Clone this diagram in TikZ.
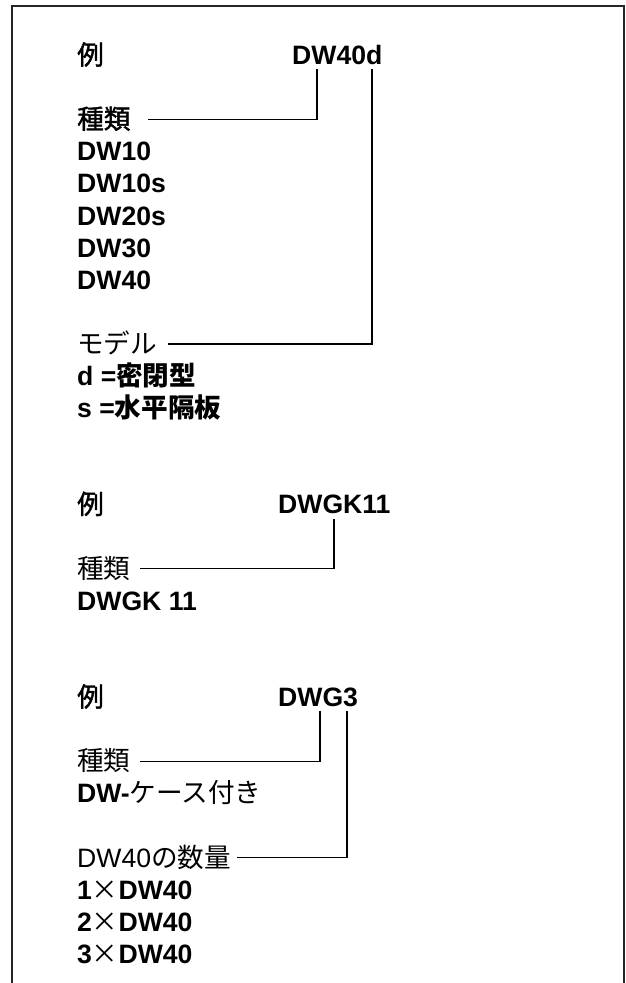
\documentclass[tikz,border=0pt]{standalone}
\usepackage{fontspec}
\setmainfont{Liberation Sans}
\newfontfamily\jp{Noto Sans CJK JP}
\newfontfamily\jpm[FakeBold=1.6]{Noto Sans CJK JP}
\begin{document}
\begin{tikzpicture}[x=1pt,y=-1pt,
  txt/.style={anchor=base west, inner sep=0pt, font=\fontsize{26.6}{32}\selectfont},
  bold/.style={anchor=base west, inner sep=0pt, font=\fontsize{26.6}{32}\selectfont\bfseries},
  conn/.style={line width=1.3pt, line cap=rect},
  frame/.style={line width=2pt, draw=black!85}]
\useasboundingbox (0,0) rectangle (626,983);
\draw[frame] (12,990) -- (12,6) -- (624,6) -- (624,990);
% block 1
\node[txt] (ex1) at (77,64.5) {\jpm 例};
\node[bold] (code1) at (292,64.5) {DW40d};
\node[txt] (kind1) at (77,128.7) {\jpm 種類};
\node[bold] (t1) at (77,160.8) {DW10};
\node[bold] (t2) at (77,192.9) {DW10s};
\node[bold] (t3) at (77,225) {DW20s};
\node[bold] (t4) at (77,257.1) {DW30};
\node[bold] (t5) at (77,289.2) {DW40};
\node[txt] (model) at (77,353.4) {\jp モデル};
\node[bold] (m1) at (77,385.5) {d =\jp 密閉型};
\node[bold] (m2) at (77,417.6) {s =\jp 水平隔板};
\draw[conn] ([xshift=25pt,yshift=-5.5pt]code1.base west) |- ([xshift=18pt,yshift=9.5pt]kind1.base east);
\draw[conn] ([xshift=80pt,yshift=-5.5pt]code1.base west) |- ([xshift=11pt,yshift=9.5pt]model.base east);
% block 2
\node[txt] (ex2) at (77,513.9) {\jpm 例};
\node[bold] (code2) at (278,513.9) {DWGK11};
\node[txt] (kind2) at (77,578.1) {\jp 種類};
\node[bold] (g1) at (77,610.2) {DWGK 11};
\draw[conn] ([xshift=56pt,yshift=-5.5pt]code2.base west) |- ([xshift=10pt,yshift=9.5pt]kind2.base east);
% block 3
\node[txt] (ex3) at (77,706.5) {\jpm 例};
\node[bold] (code3) at (278,706.5) {DWG3};
\node[txt] (kind3) at (77,770.7) {\jp 種類};
\node[txt] (case) at (77,802.8) {\bfseries DW-\mdseries\jp ケース付き};
\node[txt] (qty) at (77,867) {DW40\jp の数量};
\node[txt] (q1) at (77,899.1) {\bfseries 1{\mdseries\jp ×}DW40};
\node[txt] (q2) at (77,931.2) {\bfseries 2{\mdseries\jp ×}DW40};
\node[txt] (q3) at (77,963.3) {\bfseries 3{\mdseries\jp ×}DW40};
\draw[conn] ([xshift=42pt,yshift=-5.5pt]code3.base west) |- ([xshift=10pt,yshift=9.5pt]kind3.base east);
\draw[conn] ([xshift=69pt,yshift=-5.5pt]code3.base west) |- ([xshift=7pt,yshift=9.5pt]qty.base east);
\end{tikzpicture}
\end{document}
